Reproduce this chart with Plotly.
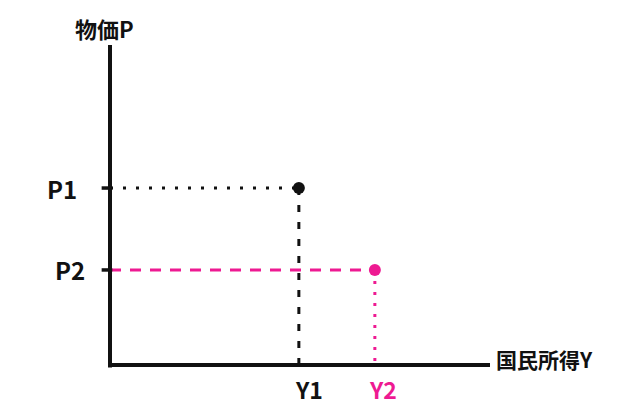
import plotly.graph_objects as go

# Data (abstract diagram values)
y_labels = ["P1", "P2"]
x_labels = ["Y1", "Y2"]
income = [4.97, 6.97]   # Y1, Y2
price = [5.53, 2.97]    # P1, P2
series_colors = ["#111111", "#ee1a92"]
x_title = "国民所得Y"
y_title = "物価P"

FONT = "Noto Sans CJK JP"
fig = go.Figure()

h_dash = ["3px,10px", "11px,9px"]
v_dash = ["7px,10px", "3px,8px"]
ylab_shift = [-48, -40]
xlab_shift = [10, 8]
for i in range(2):
    fig.add_trace(go.Scatter(x=[0, income[i]], y=[price[i], price[i]], mode="lines",
                             line=dict(color=series_colors[i], width=3, dash=h_dash[i]),
                             hoverinfo="skip", showlegend=False))
    fig.add_trace(go.Scatter(x=[income[i], income[i]], y=[price[i], 0], mode="lines",
                             line=dict(color=series_colors[i], width=3, dash=v_dash[i]),
                             hoverinfo="skip", showlegend=False))
    fig.add_trace(go.Scatter(x=[income[i]], y=[price[i]], mode="markers",
                             marker=dict(color=series_colors[i], size=12),
                             hoverinfo="skip", showlegend=False))
    # y tick mark and label
    fig.add_shape(type="line", xref="paper", yref="y", x0=-0.022, x1=0.006, y0=price[i], y1=price[i],
                  line=dict(color="#111111", width=3.5))
    fig.add_annotation(x=0, y=price[i], xref="paper", yref="y", text=y_labels[i], showarrow=False,
                       xanchor="center", yanchor="middle", xshift=ylab_shift[i],
                       font=dict(family=FONT, size=24, color="#111111", weight=700))
    # x label
    fig.add_annotation(x=income[i], y=0, xref="x", yref="paper", text=x_labels[i], showarrow=False,
                       xanchor="center", yanchor="top", yshift=-5, xshift=xlab_shift[i],
                       font=dict(family=FONT, size=23, color=series_colors[i], weight=700))

# axes
fig.add_shape(type="line", xref="paper", yref="paper", x0=0, x1=0, y0=-0.008, y1=1.0,
              line=dict(color="#111111", width=4))
fig.add_shape(type="line", xref="paper", yref="paper", x0=0, x1=1.0, y0=0, y1=0,
              line=dict(color="#111111", width=4))

# page body has an 8px margin, so the figure is offset by 8px
fig.update_layout(
    width=612, height=411,
    margin=dict(l=102, r=130, t=37, b=54, autoexpand=False),
    paper_bgcolor="white", plot_bgcolor="white",
    font=dict(family=FONT, color="#111111"),
    xaxis=dict(range=[0, 10], visible=False, automargin=False),
    yaxis=dict(range=[0, 10], visible=False, automargin=False),
)

fig.add_annotation(x=0, y=1.0, xref="paper", yref="paper", text=y_title, showarrow=False,
                   xanchor="center", yanchor="middle", yshift=17, xshift=-6,
                   font=dict(family=FONT, size=22, color="#111111", weight=700))
fig.add_annotation(x=1.0, y=0, xref="paper", yref="paper", text=x_title, showarrow=False,
                   xanchor="left", yanchor="middle", xshift=4, yshift=6,
                   font=dict(family=FONT, size=21, color="#111111", weight=700))

fig.write_html("out.html")
